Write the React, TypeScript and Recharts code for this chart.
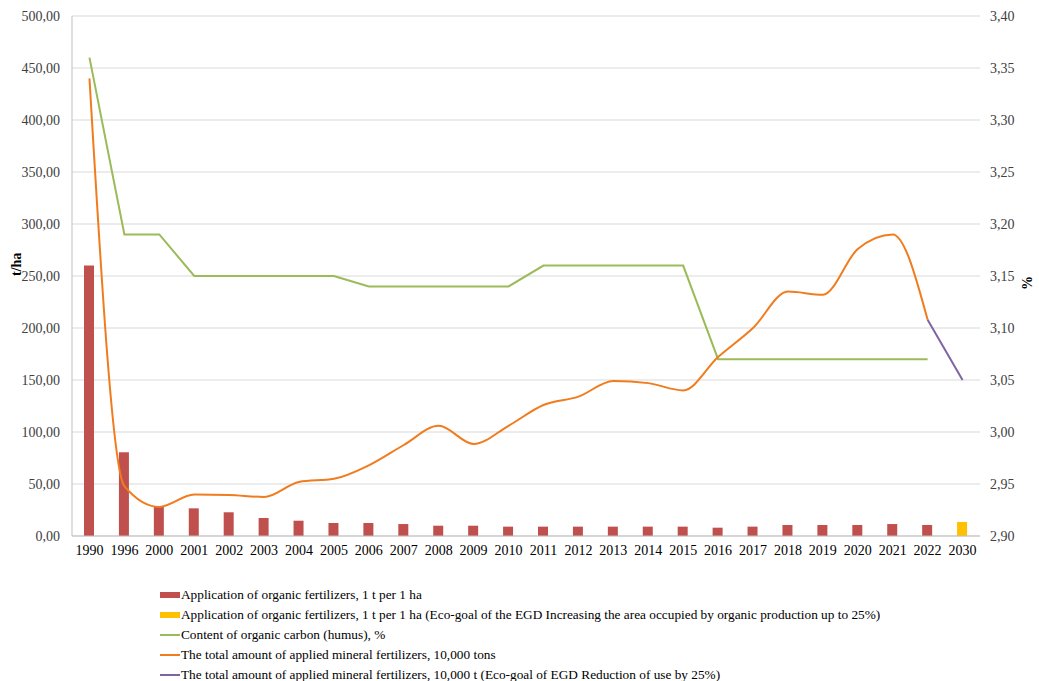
import React from "react";
import {
	Bar,
	CartesianGrid,
	ComposedChart,
	Legend,
	Line,
	XAxis,
	YAxis,
} from "recharts";

const years = [
	"1990", "1996", "2000", "2001", "2002", "2003", "2004", "2005", "2006", "2007",
	"2008", "2009", "2010", "2011", "2012", "2013", "2014", "2015", "2016", "2017",
	"2018", "2019", "2020", "2021", "2022", "2030",
];

// t per 1 ha
const organic = [
	260, 80.5, 28, 26.6, 22.8, 17.3, 14.7, 12.5, 12.5, 11.5,
	9.9, 9.9, 9, 9, 9, 9, 9, 9, 8, 9,
	10.6, 10.6, 10.6, 11.5, 10.6, null,
];
const organicGoal = [
	null, null, null, null, null, null, null, null, null, null,
	null, null, null, null, null, null, null, null, null, null,
	null, null, null, null, null, 13.5,
];
// %
const humus = [
	3.36, 3.19, 3.19, 3.15, 3.15, 3.15, 3.15, 3.15, 3.14, 3.14,
	3.14, 3.14, 3.14, 3.16, 3.16, 3.16, 3.16, 3.16, 3.07, 3.07,
	3.07, 3.07, 3.07, 3.07, 3.07, null,
];
// 10,000 tons
const mineral = [
	440, 48, 28, 40, 39.5, 37.5, 52, 55, 68, 87.5,
	106, 88.5, 106, 126, 134, 149, 147, 140, 172, 200,
	235, 232, 276, 290, 208, null,
];
const mineralGoal = [
	null, null, null, null, null, null, null, null, null, null,
	null, null, null, null, null, null, null, null, null, null,
	null, null, null, null, 208, 150,
];

const leftTicks = [0, 50, 100, 150, 200, 250, 300, 350, 400, 450, 500];
const rightTicks = [2.9, 2.95, 3.0, 3.05, 3.1, 3.15, 3.2, 3.25, 3.3, 3.35, 3.4];

const legendItems = [
	{ label: "Application of organic fertilizers, 1 t per 1 ha", color: "#c0504d", bar: true },
	{
		label:
			"Application of organic fertilizers, 1 t per 1 ha (Eco-goal of the EGD Increasing the area occupied by organic production up to 25%)",
		color: "#ffc000",
		bar: true,
	},
	{ label: "Content of organic carbon (humus), %", color: "#9bbb59", bar: false },
	{ label: "The total amount of applied mineral fertilizers, 10,000 tons", color: "#f07c1e", bar: false },
	{
		label: "The total amount of applied mineral fertilizers, 10,000 t (Eco-goal of EGD Reduction of use by 25%)",
		color: "#8064a2",
		bar: false,
	},
];

const data = years.map((year, i) => ({
	year,
	organic: organic[i],
	organicGoal: organicGoal[i],
	humus: humus[i],
	mineral: mineral[i],
	mineralGoal: mineralGoal[i],
}));

const font = "Liberation Serif";
const fmt = (v: number, d: number) => v.toFixed(d).replace(".", ",");

function LegendBox() {
	return (
		<div style={{ fontFamily: font, fontSize: 13.3, color: "#000", paddingLeft: 160, height: 96 }}>
			{legendItems.map((item) => (
				<div key={item.label} style={{ display: "flex", alignItems: "center", height: 20 }}>
					<span
						style={{
							display: "inline-block",
							width: 20,
							height: item.bar ? 6 : 2,
							background: item.color,
							marginRight: 1,
						}}
					/>
					<span>{item.label}</span>
				</div>
			))}
		</div>
	);
}

export default function App() {
	return (
		<div style={{ position: "absolute", left: 0, top: 0, background: "#fff" }}>
			<ComposedChart
				width={1039}
				height={681}
				data={data}
				margin={{ top: 16, right: 0, bottom: 0, left: 0 }}
			>
				<CartesianGrid yAxisId="left" vertical={false} stroke="#d9d9d9" />
				<XAxis
					dataKey="year"
					tickLine={false}
					axisLine={{ stroke: "#bfbfbf" }}
					tick={{ fontFamily: font, fontSize: 14, fill: "#000" }}
					tickMargin={3}
					height={49}
					interval={0}
				/>
				<YAxis
					yAxisId="left"
					width={72}
					domain={[0, 500]}
					ticks={leftTicks}
					tickFormatter={(v) => fmt(v, 2)}
					tickLine={false}
					axisLine={{ stroke: "#bfbfbf" }}
					tick={{ fontFamily: font, fontSize: 14, fill: "#404040" }}
					tickMargin={6}
					label={{
						value: "t/ha",
						angle: -90,
						position: "insideLeft",
						offset: 16,
						style: { fontFamily: font, fontSize: 14, fontWeight: "bold", fill: "#000" },
					}}
				/>
				<YAxis
					yAxisId="right"
					orientation="right"
					width={59}
					domain={[2.9, 3.4]}
					ticks={rightTicks}
					tickFormatter={(v) => fmt(v, 2)}
					tickLine={false}
					axisLine={false}
					tick={{ fontFamily: font, fontSize: 14, fill: "#404040" }}
					tickMargin={4}
					label={{
						value: "%",
						angle: -90,
						position: "insideRight",
						offset: 12,
						style: { fontFamily: font, fontSize: 14, fontWeight: "bold", fill: "#000" },
					}}
				/>
				<Legend verticalAlign="bottom" align="left" content={() => <LegendBox />} />
				<Bar
					yAxisId="left"
					dataKey="organic"
					stackId="b"
					fill="#c0504d"
					barSize={10}
					isAnimationActive={false}
				/>
				<Bar
					yAxisId="left"
					dataKey="organicGoal"
					stackId="b"
					fill="#ffc000"
					barSize={10}
					isAnimationActive={false}
				/>
				<Line
					yAxisId="right"
					dataKey="humus"
					type="linear"
					stroke="#9bbb59"
					strokeWidth={2}
					dot={false}
					isAnimationActive={false}
				/>
				<Line
					yAxisId="left"
					dataKey="mineral"
					type="monotone"
					stroke="#f07c1e"
					strokeWidth={2}
					dot={false}
					isAnimationActive={false}
				/>
				<Line
					yAxisId="left"
					dataKey="mineralGoal"
					type="linear"
					stroke="#8064a2"
					strokeWidth={2}
					dot={false}
					connectNulls={false}
					isAnimationActive={false}
				/>
			</ComposedChart>
		</div>
	);
}
